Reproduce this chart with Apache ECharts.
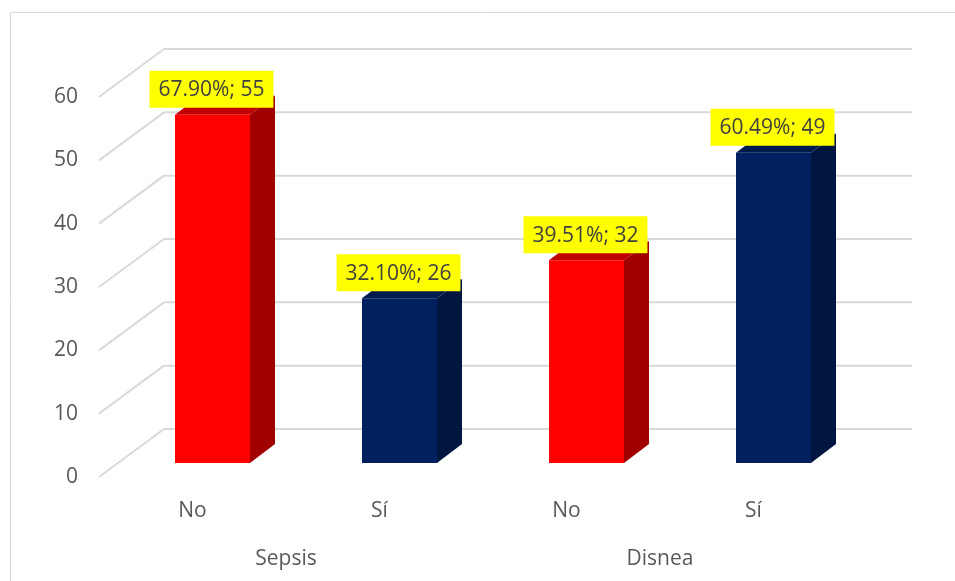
<!DOCTYPE html>
<html>
<head>
<meta charset="utf-8">
<script src="https://cdn.jsdelivr.net/npm/echarts@6/dist/echarts.min.js"></script>
<style>
html,body{margin:0;padding:0;background:#ffffff;}
#chart{width:955px;height:581px;}
</style>
</head>
<body>
<div id="chart"></div>
<script>
// ---- data ----
const categories = ['No', 'Sí', 'No', 'Sí'];
const groups = ['Sepsis', 'Disnea'];
const counts = [55, 26, 32, 49];
const percents = ['67.90%', '32.10%', '39.51%', '60.49%'];
const yTicks = [0, 10, 20, 30, 40, 50, 60];

// ---- styles ----
const FONT = '"Open Sans", "Noto Sans", sans-serif';
const palette = {
  'No': { front: '#FF0000', top: '#C00000', side: '#A00000' },
  'Sí': { front: '#002060', top: '#001A4D', side: '#001540' }
};
const WALL = [65, -48];   // full depth offset (front plane -> back wall)
const FACE = [20, -14];   // offset of bar front face from front plane
const BAR_D = [25, -19];  // bar depth
const BAR_W = 0.401;      // fraction of band

const chart = echarts.init(document.getElementById('chart'), null, { renderer: 'canvas' });

function renderWall(params, api) {
  const v = api.value(1);
  const cs = params.coordSys;
  const y = api.coord([0, v])[1];
  const gx = cs.x, gw = cs.width;
  const lineStyle = { stroke: '#D9D9D9', lineWidth: 2 };
  return {
    type: 'group',
    children: [
      { type: 'line', shape: { x1: gx, y1: y, x2: gx + WALL[0], y2: y + WALL[1] }, style: lineStyle },
      { type: 'line', shape: { x1: gx + WALL[0], y1: y + WALL[1], x2: gx + gw + WALL[0], y2: y + WALL[1] }, style: lineStyle }
    ]
  };
}

function renderBar(params, api) {
  const i = api.value(0);
  const v = api.value(1);
  const top = api.coord([i, v]);
  const base = api.coord([i, 0]);
  const band = api.size([1, 0])[0];
  const w = band * BAR_W;
  const x0 = top[0] - w / 2 + FACE[0];
  const x1 = x0 + w;
  const yt = top[1] + FACE[1];
  const yb = base[1] + FACE[1];
  const col = palette[categories[i]];
  const dx = BAR_D[0], dy = BAR_D[1];
  return {
    type: 'group',
    children: [
      { type: 'polygon', shape: { points: [[x1, yt], [x1 + dx, yt + dy], [x1 + dx, yb + dy], [x1, yb]] }, style: { fill: col.side } },
      { type: 'polygon', shape: { points: [[x0, yt], [x1, yt], [x1 + dx, yt + dy], [x0 + dx, yt + dy]] }, style: { fill: col.top } },
      { type: 'rect', shape: { x: x0, y: yt, width: w, height: yb - yt }, style: { fill: col.front } },
      {
        type: 'text', z2: 100,
        style: {
          text: percents[i] + '; ' + counts[i],
          x: (x0 + x1) / 2 - 1, y: yt - 7,
          align: 'center', verticalAlign: 'bottom',
          fill: '#404040', font: '21px ' + FONT,
          backgroundColor: '#FFFF00', padding: [9, 9, 7, 9]
        }
      }
    ]
  };
}

const axisText = { color: '#595959', fontSize: 21, fontFamily: FONT };

const option = {
  backgroundColor: '#ffffff',
  animation: false,
  graphic: [{
    type: 'rect', z: -10,
    shape: { x: 10.5, y: 12.5, width: 1000, height: 600 },
    style: { fill: 'none', stroke: '#D9D9D9', lineWidth: 1 }
  }],
  grid: { left: 99, top: 97, width: 748, height: 380 },
  xAxis: [
    {
      type: 'category', data: categories, position: 'bottom',
      axisLine: { show: false }, axisTick: { show: false }, splitLine: { show: false },
      axisLabel: Object.assign({ margin: 24 }, axisText)
    },
    {
      type: 'category', data: groups, position: 'bottom', offset: 48,
      axisLine: { show: false }, axisTick: { show: false }, splitLine: { show: false },
      axisLabel: Object.assign({ margin: 24 }, axisText)
    }
  ],
  yAxis: {
    type: 'value', min: 0, max: 60, interval: 10,
    axisLine: { show: false }, axisTick: { show: false }, splitLine: { show: false },
    axisLabel: Object.assign({ margin: 21, padding: [4, 0, 0, 0] }, axisText)
  },
  series: [
    {
      type: 'custom', name: 'wall', z: 1, silent: true,
      renderItem: renderWall,
      data: yTicks.map(v => [0, v])
    },
    {
      type: 'custom', name: 'bars', z: 2,
      renderItem: renderBar,
      data: counts.map((c, i) => [i, c])
    }
  ]
};

chart.setOption(option);
</script>
</body>
</html>
